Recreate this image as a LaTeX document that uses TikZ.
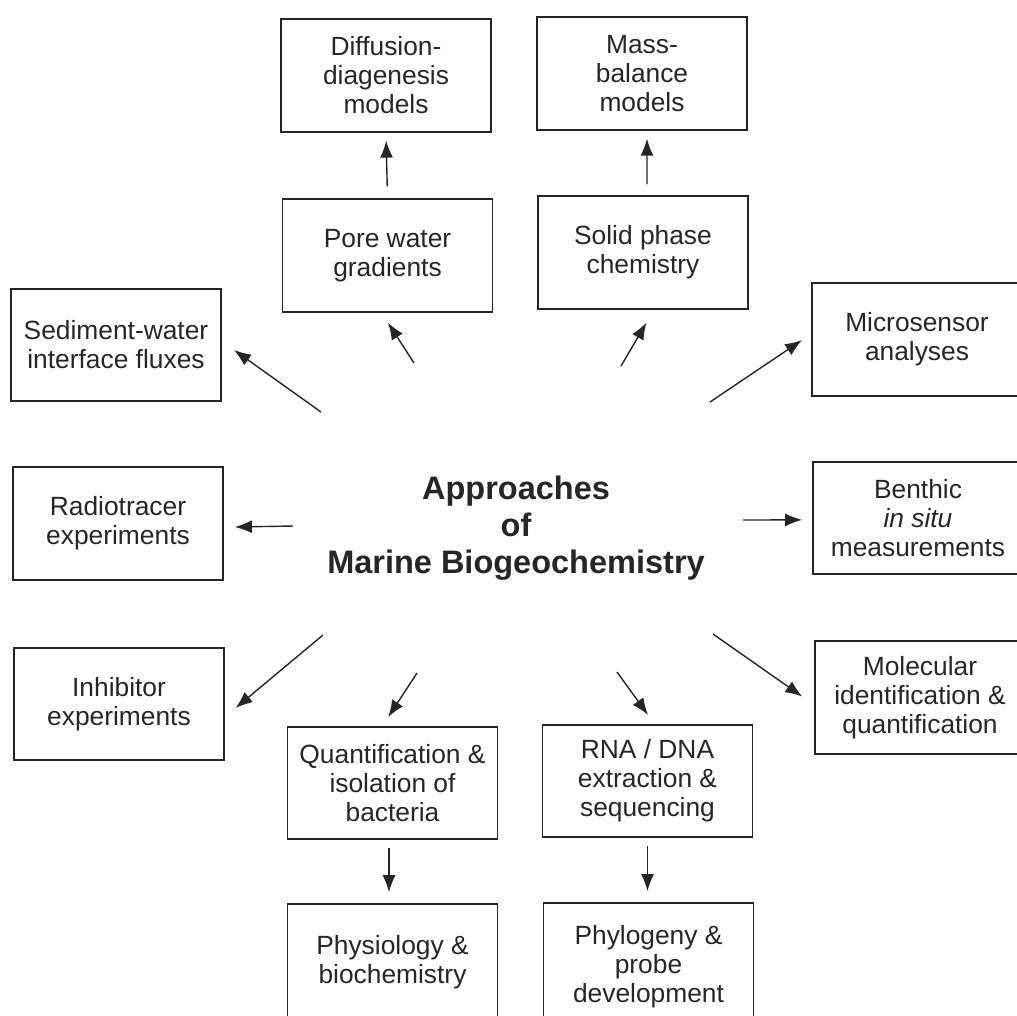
\documentclass[tikz,border=0pt]{standalone}
\usepackage{fontspec}
\setmainfont{Liberation Sans}
\usetikzlibrary{arrows.meta}
\definecolor{ink}{HTML}{262626}
\tikzset{box/.style={draw=ink, line width=1pt, minimum width=4.2cm, minimum height=2.25cm,
  align=center, inner sep=2pt, text=ink, font=\fontsize{15}{16.5}\selectfont},
%arrows from the title and between boxes
arr/.style={draw=ink, line width=0.8pt, -{Latex[length=3.4mm,width=2.6mm]}}}

\begin{document}
\begin{tikzpicture}[x=0.02cm,y=-0.02cm]

\useasboundingbox (0,0) rectangle (1017,1015);
\clip (0,0) rectangle (1017,1015);

\node[align=center, text=ink, font=\fontsize{18.5}{21}\selectfont\bfseries] (title) at (516,528)
    {Approaches\\of\\Marine Biogeochemistry};

\node[box] (diff)  at (386,75.5)    {Diffusion-\\diagenesis\\models};
\node[box] (mass)  at (642,73.5)    {Mass-\\balance\\models};
\node[box] (pore)  at (387.5,255.5) {Pore water\\gradients};
\node[box] (solid) at (643,252.5)   {Solid phase\\chemistry};

\node[box] (sed)   at (116,345)     {Sediment-water\\interface fluxes};
\node[box] (radio) at (118,523.5)   {Radiotracer\\experiments};
\node[box] (inhib) at (119,704)     {Inhibitor\\experiments};

\node[box] (micro) at (917,339.5)   {Microsensor\\analyses};
\node[box] (benth) at (918,518)     {Benthic\\\textit{in situ}\\measurements};
\node[box] (molec) at (920,697.5)   {Molecular\\identification \&\\quantification};

\node[box] (quant) at (392.5,783)   {Quantification \&\\isolation of\\bacteria};
\node[box] (rna)   at (647.5,781)   {RNA / DNA\\extraction \&\\sequencing};
\node[box, minimum height=2.32cm] (phys) at (392.5,962) {Physiology \&\\biochemistry};
\node[box, minimum height=2.56cm] (phyl) at (648.5,967) {Phylogeny \&\\probe\\development};

\coordinate (0) at (321,412);
\coordinate (1) at (414,363);
\coordinate (2) at (621,366);
\coordinate (3) at (710,402);
\coordinate (4) at (293,526);
\coordinate (5) at (743,520);
\coordinate (6) at (323,635);
\coordinate (7) at (713,634);
\coordinate (8) at (417,673);
\coordinate (9) at (617,672);

\foreach \i/\bx/\ang/\sh in {0/sed/2.5/0.3, 1/pore/264/0.24, 2/solid/281.7/0.3,
    3/micro/177/0.22, 4/radio/358.6/0.22, 5/benth/181/0.2, 6/inhib/353.5/0.28,
    7/molec/184.3/0.29, 8/quant/100.4/0.21, 9/rna/83.1/0.22}
    \draw[arr, shorten >=\sh cm] (\i) -- (\bx.\ang);

\draw[arr, shorten <=0.24cm, shorten >=0.16cm] (pore.north) -- (diff.south);
\draw[arr, shorten <=0.22cm, shorten >=0.16cm] ([xshift=0.08cm]solid.north) -- ([xshift=0.1cm]mass.south);
\draw[arr, shorten <=0.16cm, shorten >=0.22cm] ([xshift=-0.07cm]quant.south) -- ([xshift=-0.07cm]phys.north);
\draw[arr, shorten <=0.16cm, shorten >=0.22cm] (rna.south) -- (rna.south |- phyl.north);

\end{tikzpicture}
\end{document}
